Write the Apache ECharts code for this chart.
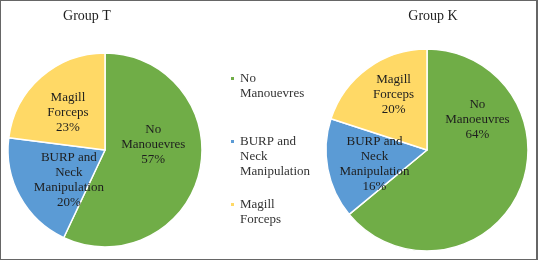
<!DOCTYPE html>
<html>
<head>
<meta charset="utf-8">
<script src="https://cdn.jsdelivr.net/npm/echarts@6/dist/echarts.min.js"></script>
<style>
html,body{margin:0;padding:0;background:#fff;}
#wrap{width:538px;height:260px;box-sizing:border-box;border:1.5px solid #666;border-right-width:2px;position:relative;}
#chart{position:absolute;left:-1.5px;top:-1.5px;width:538px;height:260px;}
</style>
</head>
<body>
<div id="wrap"><div id="chart"></div></div>
<script>
const categories = ['No Manouevres', 'BURP and Neck Manipulation', 'Magill Forceps'];
const legendLabels = ['No\nManouevres', 'BURP and\nNeck\nManipulation', 'Magill\nForceps'];
const groupTitles = ['Group T', 'Group K'];
const groupT = [57, 20, 23];
const groupK = [64, 16, 20];
const labelsT = ['No\nManouevres', 'BURP and\nNeck\nManipulation', 'Magill\nForceps'];
const labelsK = ['No\nManoeuvres', 'BURP and\nNeck\nManipulation', 'Magill\nForceps'];

const colors = ['#70AD47', '#5B9BD5', '#FFD966'];
const serif = '"Liberation Serif", "DejaVu Serif", serif';
const txt = '#1e1e1e';

const offsetsT = [[-2, -17], [9, 5], [-3, 1]];
const offsetsK = [[2, -53], [0, 4], [-2, -12]];

function buildData(values, labels, offsets) {
  return values.map((v, i) => ({
    name: categories[i],
    value: v,
    itemStyle: { color: colors[i] },
    label: {
      offset: offsets[i],
      formatter: labels[i] + '\n' + v + '%'
    }
  }));
}

// Pad legend text with blank lines on top so the icon lines up with the first line
function legendText(name) {
  const s = legendLabels[categories.indexOf(name)];
  const n = s.split('\n').length;
  let pad = '';
  for (let k = 1; k < n; k++) pad += ' \n';
  return pad + s;
}

const option = {
  animation: false,
  color: colors,
  title: [
    { text: groupTitles[0], left: 82, top: 4, textAlign: 'center',
      textStyle: { fontFamily: serif, fontSize: 14, fontWeight: 'normal', color: txt } },
    { text: groupTitles[1], left: 428, top: 4, textAlign: 'center',
      textStyle: { fontFamily: serif, fontSize: 14, fontWeight: 'normal', color: txt } }
  ],
  legend: {
    orient: 'vertical',
    left: 229,
    top: 56,
    padding: 0,
    itemWidth: 5,
    itemHeight: 5,
    itemGap: 3,
    icon: 'rect',
    data: categories,
    formatter: legendText,
    textStyle: { fontFamily: serif, fontSize: 13, lineHeight: 15, color: '#333' }
  },
  series: [
    {
      type: 'pie',
      center: [105, 150],
      radius: 97,
      startAngle: 90,
      clockwise: true,
      itemStyle: { borderColor: '#fff', borderWidth: 1.5 },
      label: { show: true, position: 'inside', fontFamily: serif, fontSize: 13, lineHeight: 15, color: txt, align: 'center' },
      labelLine: { show: false },
      emphasis: { disabled: true },
      data: buildData(groupT, labelsT, offsetsT)
    },
    {
      type: 'pie',
      center: [427, 150],
      radius: 101,
      startAngle: 90,
      clockwise: true,
      itemStyle: { borderColor: '#fff', borderWidth: 1.5 },
      label: { show: true, position: 'inside', fontFamily: serif, fontSize: 13, lineHeight: 15, color: txt, align: 'center' },
      labelLine: { show: false },
      emphasis: { disabled: true },
      data: buildData(groupK, labelsK, offsetsK)
    }
  ]
};

const chart = echarts.init(document.getElementById('chart'), null, { renderer: 'canvas' });
chart.setOption(option);
</script>
</body>
</html>
